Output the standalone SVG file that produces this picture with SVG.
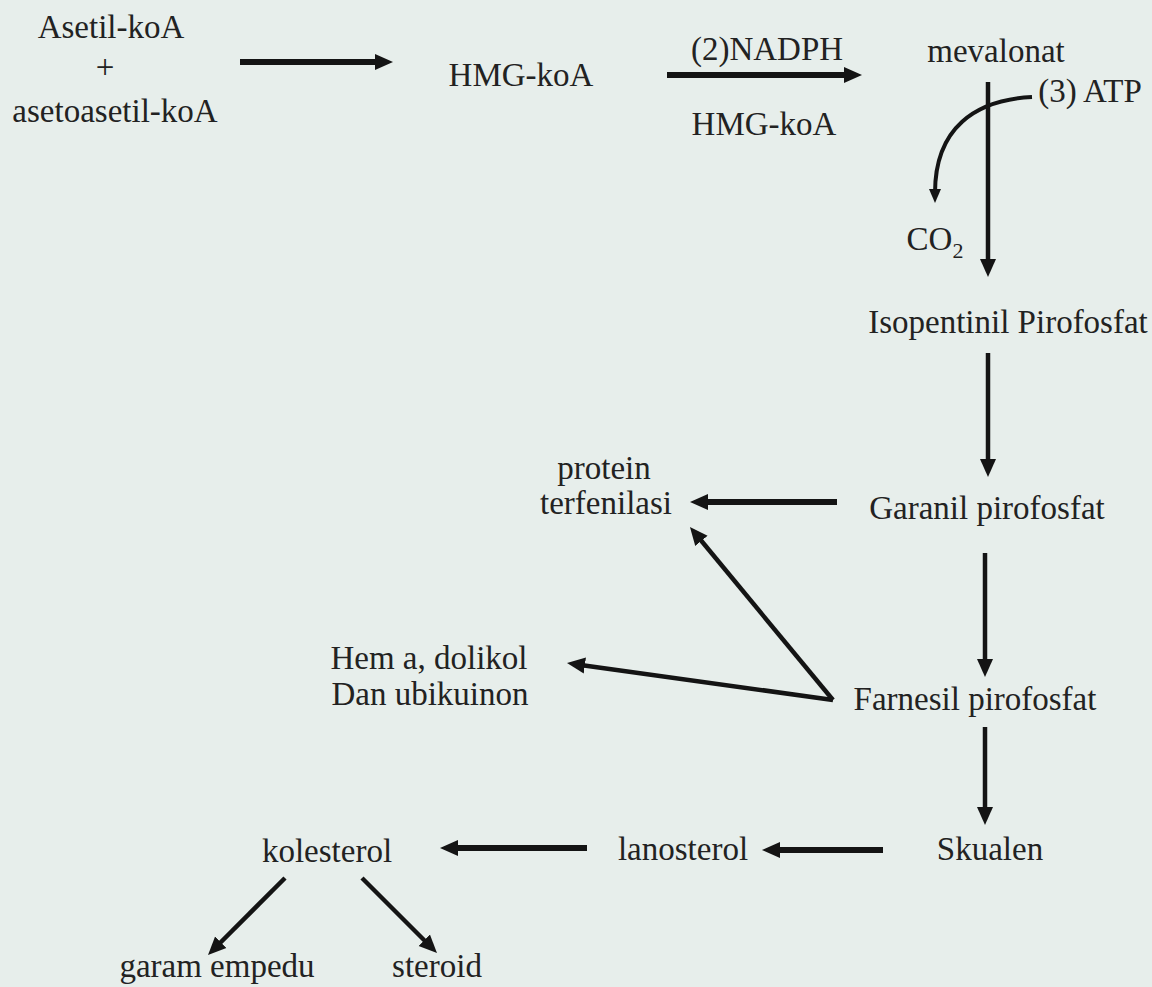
<svg xmlns="http://www.w3.org/2000/svg" width="1152" height="987" viewBox="0 0 1152 987">
<style>
text{font-family:"Liberation Serif","Times New Roman",serif;font-size:33px;fill:#222;text-anchor:middle}
.a{fill:none;stroke:#141414;stroke-linecap:butt}
.h{stroke-width:6;marker-end:url(#big)}
.v{stroke-width:4.5;marker-end:url(#big)}
.d{stroke-width:4.5;marker-end:url(#big)}
.c{stroke-width:4;marker-end:url(#small)}
</style>
<defs>
<marker id="big" markerUnits="userSpaceOnUse" markerWidth="20" markerHeight="18" viewBox="0 0 20 18" refX="6" refY="9" orient="auto"><path d="M0,1 L18,9 L0,17 z" fill="#141414"/></marker>
<marker id="small" markerUnits="userSpaceOnUse" markerWidth="16" markerHeight="14" viewBox="0 0 16 14" refX="4" refY="7" orient="auto"><path d="M0,1 L14,7 L0,13 z" fill="#141414"/></marker>
</defs>
<rect width="1152" height="987" fill="#e7eeeb"/>
<g id="asetil"><text x="111" y="38">Asetil-koA</text><text x="105" y="78">+</text><text x="115" y="122">asetoasetil-koA</text></g>
<g id="hmg"><text x="521" y="86">HMG-koA</text></g>
<g id="label-nadph"><text x="767" y="60">(2)NADPH</text><text x="764" y="135">HMG-koA</text></g>
<g id="mevalonat"><text x="996" y="62">mevalonat</text></g>
<g id="atp"><text x="1090" y="102">(3) ATP</text></g>
<g id="co2"><text x="935" y="250">CO<tspan font-size="22" dy="8">2</tspan></text></g>
<g id="isopentinil"><text x="1008" y="333">Isopentinil Pirofosfat</text></g>
<g id="protein"><text x="604" y="479">protein</text><text x="606" y="514">terfenilasi</text></g>
<g id="garanil"><text x="987" y="519">Garanil pirofosfat</text></g>
<g id="hem"><text x="429" y="669">Hem a, dolikol</text><text x="430" y="705">Dan ubikuinon</text></g>
<g id="farnesil"><text x="975" y="710">Farnesil pirofosfat</text></g>
<g id="skualen"><text x="990" y="860">Skualen</text></g>
<g id="lanosterol"><text x="683" y="860">lanosterol</text></g>
<g id="kolesterol"><text x="327" y="862">kolesterol</text></g>
<g id="garam"><text x="217" y="977">garam empedu</text></g>
<g id="steroid"><text x="437" y="977">steroid</text></g>
<g id="connectors">
<line class="a h" x1="240" y1="62" x2="381" y2="62"/>
<line class="a h" x1="667" y1="75" x2="850" y2="75"/>
<line class="a v" x1="988" y1="82" x2="988" y2="265"/>
<path class="a c" d="M1032,97 C975,100 935,128 935,193"/>
<line class="a v" x1="988" y1="353" x2="988" y2="465"/>
<line class="a h" x1="837" y1="502" x2="702" y2="502"/>
<line class="a v" x1="985" y1="553" x2="985" y2="665"/>
<line class="a d" x1="833" y1="700" x2="697.6" y2="536.3"/>
<line class="a d" x1="833" y1="700" x2="578.9" y2="664.7"/>
<line class="a v" x1="985" y1="727" x2="985" y2="813"/>
<line class="a h" x1="883" y1="850" x2="774" y2="850"/>
<line class="a h" x1="587" y1="848" x2="452" y2="848"/>
<line class="a d" x1="285" y1="878" x2="216.5" y2="946.5"/>
<line class="a d" x1="362" y1="878" x2="428.5" y2="944.5"/>
</g>
</svg>
